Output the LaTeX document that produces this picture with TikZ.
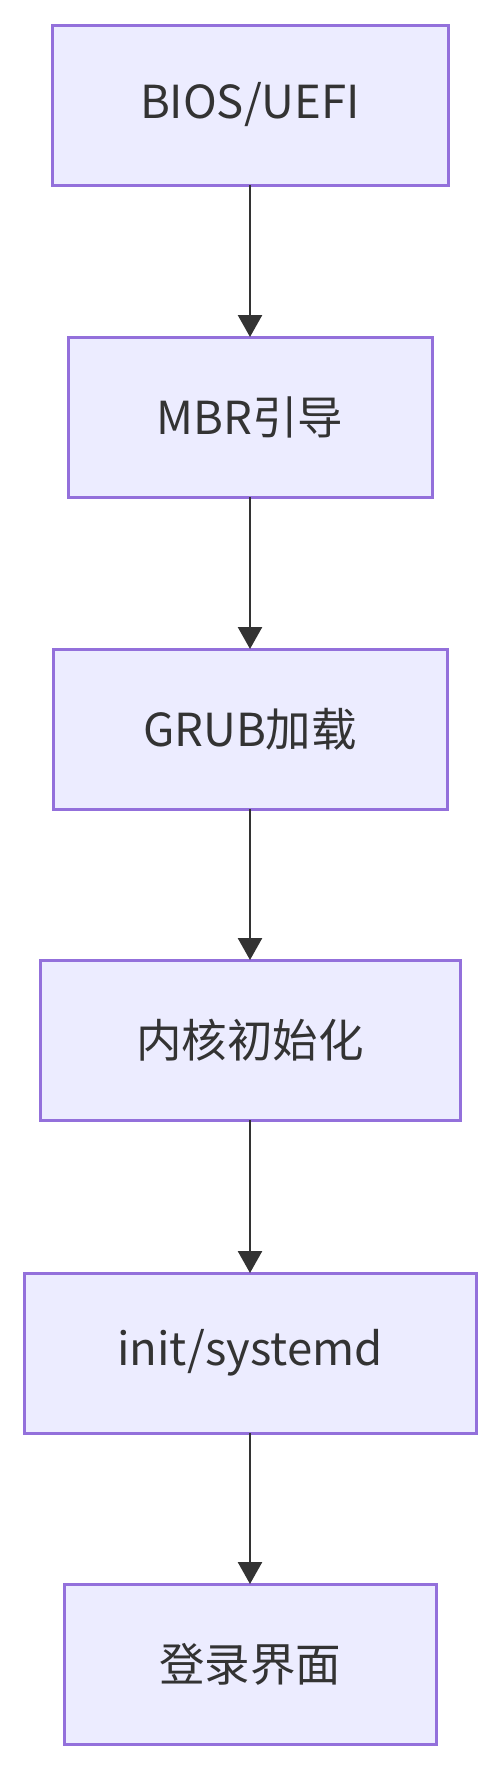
\documentclass[tikz,border=0pt]{standalone}
\usepackage{fontspec}
\setmainfont{Noto Sans CJK SC}
\usetikzlibrary{arrows.meta}
\definecolor{boxfill}{HTML}{ECECFF}
\definecolor{boxline}{HTML}{9370DB}
\definecolor{textgray}{HTML}{333333}
\begin{document}
\begin{tikzpicture}[
    x=1pt, y=-1pt,
    step box/.style={rectangle, draw=boxline, fill=boxfill, line width=3pt,
        minimum height=160pt, inner sep=0pt, outer sep=0pt,
        text=textgray, font=\fontsize{45.5}{50}\selectfont},
    flow arrow/.style={draw=textgray, line width=2.6pt,
        -{Triangle[width=24pt,length=22pt]}}
]
    \useasboundingbox (0,0) rectangle (500,1770);
    \node[step box, minimum width=396pt] (bios) at (250,105) {BIOS/UEFI};
    \node[step box, minimum width=364pt] (mbr) at (250,417) {MBR引导};
    \node[step box, minimum width=394pt] (grub) at (250,729) {GRUB加载};
    \node[step box, minimum width=420pt] (kernel) at (250,1040) {内核初始化};
    \node[step box, minimum width=452pt] (init) at (250,1353) {init/systemd};
    \node[step box, minimum width=372pt] (login) at (250,1664) {登录界面};

    \draw[flow arrow] (bios) -- (mbr);
    \draw[flow arrow] (mbr) -- (grub);
    \draw[flow arrow] (grub) -- (kernel);
    \draw[flow arrow] (kernel) -- (init);
    \draw[flow arrow] (init) -- (login);
\end{tikzpicture}
\end{document}
